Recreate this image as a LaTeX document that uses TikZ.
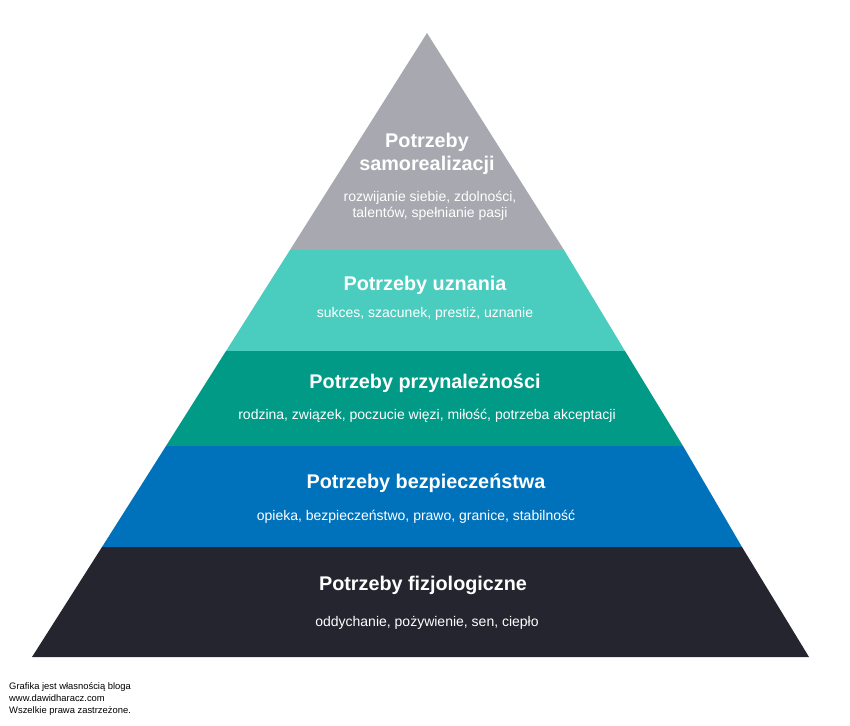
\documentclass[tikz,border=0pt]{standalone}
\usepackage{fontspec}
\setmainfont{Liberation Sans}
\definecolor{c1}{HTML}{A8A8B0}
\definecolor{c2}{HTML}{4ACCBF}
\definecolor{c3}{HTML}{019A86}
\definecolor{c4}{HTML}{0072BC}
\definecolor{c5}{HTML}{24252F}
\begin{document}
\begin{tikzpicture}[x=1pt,y=-1pt,
  ttl/.style={text=white,font=\fontsize{19.8}{23}\selectfont\bfseries,align=center},
  sub/.style={text=white,font=\fontsize{14}{16.5}\selectfont,align=center},
  note/.style={font=\fontsize{9.4}{12}\selectfont,align=left,anchor=north west,inner sep=0}]
\useasboundingbox (0,0) rectangle (850,725);
\fill[white] (0,0) rectangle (850,725);
\fill[c1] (427,33) -- (564,250) -- (290,250) -- cycle;
\fill[c2] (290,250) -- (564,250) -- (625,351) -- (226,351) -- cycle;
\fill[c3] (226,351) -- (625,351) -- (683,446) -- (166,446) -- cycle;
\fill[c4] (166,446) -- (683,446) -- (742,547) -- (102,547) -- cycle;
\fill[c5] (102,547) -- (742,547) -- (809,657) -- (32,657) -- cycle;
\node[ttl] (t1) at (427,154) {Potrzeby\\samorealizacji};
\node[sub] (s1) at (430,206) {rozwijanie siebie, zdolności,\\talentów, spełnianie pasji};
\node[ttl] (t2) at (425,285) {Potrzeby uznania};
\node[sub] (s2) at (425,314) {sukces, szacunek, prestiż, uznanie};
\node[ttl] (t3) at (425,383) {Potrzeby przynależności};
\node[sub] (s3) at (427,416) {rodzina, związek, poczucie więzi, miłość, potrzeba akceptacji};
\node[ttl] (t4) at (426,483) {Potrzeby bezpieczeństwa};
\node[sub] (s4) at (416,517) {opieka, bezpieczeństwo, prawo, granice, stabilność};
\node[ttl] (t5) at (423,585) {Potrzeby fizjologiczne};
\node[sub] (s5) at (427,623) {oddychanie, pożywienie, sen, ciepło};
\node[note] (n) at (9,682) {Grafika jest własnością bloga\\www.dawidharacz.com\\Wszelkie prawa zastrzeżone.};
\end{tikzpicture}
\end{document}
